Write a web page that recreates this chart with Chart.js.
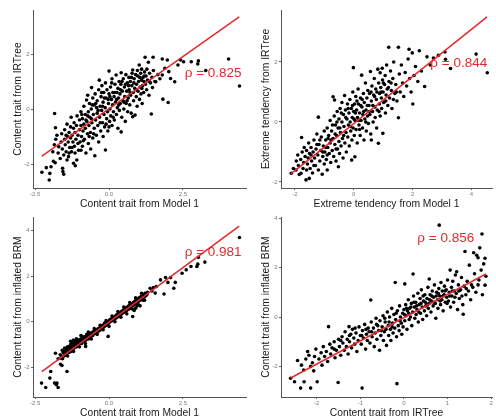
<!DOCTYPE html>
<html>
<head>
<meta charset="utf-8">
<script src="https://cdn.jsdelivr.net/npm/chart.js@4/dist/chart.umd.min.js"></script>
<style>
  html, body { margin: 0; padding: 0; background: #fff; overflow: hidden; }
  #wrap { position: relative; width: 496px; height: 419px; }
  canvas { position: absolute; }
</style>
</head>
<body>
<div id="wrap">
  <canvas id="c1" width="250" height="212" style="left:0;top:0"></canvas>
  <canvas id="c2" width="248" height="212" style="left:248px;top:0"></canvas>
  <canvas id="c3" width="250" height="214" style="left:0;top:205px"></canvas>
  <canvas id="c4" width="248" height="214" style="left:248px;top:205px"></canvas>
</div>
<script>
// axis titles
const xTitles = ["Content trait from Model 1", "Extreme tendency from Model 1", "Content trait from Model 1", "Content trait from IRTree"];
const yTitles = ["Content trait from IRTree", "Extreme tendency from IRTree", "Content trait from inflated BRM", "Content trait from inflated BRM"];
const rhoValues = ["0.825", "0.844", "0.981", "0.856"];

// ticks
const p1XTicks = [-2.5, 0, 2.5], p1XLabels = ["-2.5", "0.0", "2.5"];
const p1YTicks = [-2, 0, 2], p1YLabels = ["-2", "0", "2"];
const p2XTicks = [-2, 0, 2, 4], p2XLabels = ["-2", "0", "2", "4"];
const p2YTicks = [-2, 0, 2], p2YLabels = ["-2", "0", "2"];
const p3XTicks = [-2.5, 0, 2.5], p3XLabels = ["-2.5", "0.0", "2.5"];
const p3YTicks = [-2, 0, 2, 4], p3YLabels = ["-2", "0", "2", "4"];
const p4XTicks = [-2, -1, 0, 1, 2], p4XLabels = ["-2", "-1", "0", "1", "2"];
const p4YTicks = [-2, 0, 2, 4], p4YLabels = ["-2", "0", "2", "4"];

// fitted lines (end points)
const fit1 = [[-2.27, -1.71], [4.4, 3.35]];
const fit2 = [[-2.13, -1.73], [4.53, 3.5]];
const fit3 = [[-2.27, -2.19], [4.4, 4.2]];
const fit4 = [[-2.6, -2.47], [1.88, 1.74]];

// panel 1: Model 1 vs IRTree (content)
const p1Points = [
  [-2.27,-2.3],[-2.12,-2.13],[-2.02,-2.58],[-2.0,-2.34],[-1.96,-2.1],[-1.9,-1.55],[-1.85,-1.3],[-1.84,-0.16],[-1.81,-0.68],[-1.88,-1.9],[-1.82,-1.95],[-1.8,-1.1],
  [-1.76,-0.95],[-1.7,-1.37],[-1.72,-1.6],[-1.65,-1.8],[-1.62,-1.2],[-1.6,-0.9],[-1.58,-1.45],[-1.57,-2.15],[-1.56,-2.27],[-1.53,-2.37],[-1.53,-1.67],[-1.5,-1.1],
  [-1.5,-0.75],[-1.48,-1.3],[-1.45,-1.55],[-1.42,-1.85],[-1.42,-0.55],[-1.4,-1.0],[-1.38,-1.2],[-1.37,-1.73],[-1.35,-0.85],[-1.33,-1.4],[-1.3,-0.65],[-1.3,-1.05],
  [-1.28,-0.3],[-1.27,-1.55],[-1.25,-0.95],[-1.22,-1.2],[-1.2,-1.97],[-1.2,-0.7],[-1.18,-0.5],[-1.17,-1.35],[-1.15,-0.85],[-1.14,-2.06],[-1.12,-1.1],[-1.1,-0.6],
  [-1.09,-1.85],[-1.08,-0.25],[-1.05,-0.95],[-1.03,-1.5],[-1.0,-0.75],[-1.0,-0.4],[-0.98,-1.2],[-0.95,-0.1],[-0.95,-0.6],[-0.93,-1.0],[-0.9,-1.35],[-0.9,-0.35],
  [-0.88,-0.8],[-0.85,-0.55],[-0.85,0.1],[-0.83,-1.1],[-0.8,-0.2],[-0.8,-0.7],[-0.78,-1.6],[-0.76,0.33],[-0.75,-0.45],[-0.73,-0.9],[-0.72,0.5],[-0.7,-0.1],
  [-0.7,-1.25],[-0.68,-0.6],[-0.66,0.2],[-0.65,-0.3],[-0.63,-0.85],[-0.62,-1.45],[-0.6,0.0],[-0.59,0.78],[-0.58,-0.5],[-0.55,0.4],[-0.55,-1.05],[-0.53,-0.2],
  [-0.5,-0.7],[-0.5,0.15],[-0.48,-1.7],[-0.47,0.55],[-0.45,-0.4],[-0.43,-0.95],[-0.42,0.05],[-0.4,0.3],[-0.4,-0.15],[-0.38,-0.6],[-0.35,0.7],[-0.35,-1.2],
  [-0.33,1.05],[-0.32,-0.3],[-0.3,0.1],[-0.28,-0.8],[-0.27,0.45],[-0.25,-0.05],[-0.24,0.85],[-0.22,-0.5],[-0.2,0.25],[-0.2,-1.0],[-0.18,0.6],[-0.17,-0.2],
  [-0.15,-0.65],[-0.13,0.05],[-0.12,-1.49],[-0.12,0.95],[-0.1,0.4],[-0.08,-0.35],[-0.07,0.7],[-0.05,-0.1],[-0.04,-0.8],[-0.02,0.2],[0.0,1.38],[0.0,0.55],
  [0.02,-0.45],[0.03,0.0],[0.05,0.8],[0.06,-0.25],[0.08,0.35],[0.1,-0.6],[0.1,1.1],[0.12,0.15],[0.13,0.6],[0.15,-0.1],[0.17,0.45],[0.18,-0.4],[0.2,0.9],
  [0.22,0.25],[0.24,1.24],[0.25,-0.2],[0.27,0.6],[0.28,0.05],[0.3,-0.7],[0.3,0.75],[0.32,0.4],[0.34,1.0],[0.35,-0.05],[0.37,0.55],[0.38,0.2],[0.4,0.9],
  [0.41,-0.83],[0.41,1.32],[0.43,-0.3],[0.45,0.65],[0.47,0.3],[0.48,1.1],[0.5,0.0],[0.52,0.8],[0.53,0.45],[0.55,-0.45],[0.57,1.25],[0.58,0.2],[0.6,0.65],
  [0.62,0.95],[0.63,-0.1],[0.65,0.4],[0.67,1.15],[0.68,0.7],[0.7,0.15],[0.72,1.0],[0.73,0.5],[0.75,-0.15],[0.77,0.85],[0.78,1.3],[0.8,1.42],[0.8,-0.28],
  [0.82,0.6],[0.83,0.3],[0.85,1.1],[0.87,0.75],[0.88,-0.22],[0.9,1.25],[0.92,0.45],[0.93,0.9],[0.95,0.1],[0.97,1.2],[0.98,0.65],[1.0,1.0],[1.02,1.6],
  [1.03,0.35],[1.05,0.8],[1.07,1.3],[1.08,0.55],[1.1,1.45],[1.1,1.05],[1.12,0.2],[1.13,0.85],[1.15,1.15],[1.17,0.6],[1.18,1.0],[1.2,1.35],[1.22,1.88],
  [1.23,0.9],[1.25,1.2],[1.27,0.7],[1.3,1.05],[1.33,1.7],[1.35,0.5],[1.37,1.3],[1.4,0.95],[1.43,-0.18],[1.45,1.15],[1.47,0.78],[1.49,1.88],[1.5,1.4],
  [1.55,1.0],[1.58,0.99],[1.65,1.25],[1.72,1.1],[1.8,1.24],[1.8,1.82],[1.82,0.36],[1.89,1.48],[1.97,1.78],[2.0,0.24],[2.02,1.36],[2.08,1.11],[2.22,0.99],
  [2.33,1.6],[2.42,1.78],[2.52,1.72],[2.78,1.72],[3.0,1.64],[3.02,1.75],[3.27,1.4],[4.04,1.82],[4.41,0.84],
  [-1.45,-0.95],[-1.35,-1.6],[-1.25,-1.4],[-1.15,-1.6],[-1.05,-1.25],[-0.95,-1.5],[-0.92,-0.2],[-0.87,-1.15],[-0.78,-0.4],[-0.72,-0.25],[-0.67,-1.0],
  [-0.6,-0.35],[-0.52,-0.9],[-0.45,0.2],[-0.37,-0.05],[-0.3,-0.5],[-0.22,0.1],[-0.16,0.4],[-0.1,-0.55],[-0.03,0.35],[0.03,0.45],[0.09,0.95],[0.14,-0.3],
  [0.19,0.6],[0.26,0.35],[0.33,0.15],[0.39,0.7],[0.44,1.0],[0.51,0.25],[0.56,0.9],[0.61,0.3],[0.66,0.85],[0.71,0.6],[0.76,1.15],[0.84,0.95],[0.91,0.7],
  [0.96,1.4],[1.04,1.15],[1.11,0.75],[1.19,1.2],[1.28,1.45],[1.36,1.0],[-0.57,0.15],[-0.25,0.6],[0.0,-0.65]
];

// panel 2: Model 1 vs IRTree (extreme tendency)
const p2Points = [
  [-2.12,-1.71],[-2.05,-1.55],[-1.96,-1.6],[-1.95,-1.3],[-1.9,-1.1],[-1.88,-1.45],[-1.85,-1.75],[-1.8,-1.25],[-1.79,-1.71],[-1.77,-0.52],[-1.75,-1.0],[-1.72,-1.55],
  [-1.7,-1.35],[-1.68,-0.85],[-1.65,-1.15],[-1.62,-1.93],[-1.6,-1.6],[-1.6,-0.95],[-1.57,-1.4],[-1.55,-1.2],[-1.53,-0.7],[-1.51,-1.88],[-1.5,-1.05],[-1.48,-1.55],
  [-1.45,-0.85],[-1.43,-1.3],[-1.4,-1.7],[-1.38,-1.0],[-1.35,-0.6],[-1.33,-1.2],[-1.3,-1.45],[-1.28,-0.9],[-1.25,-0.4],[-1.22,-1.1],[-1.2,0.16],[-1.2,-1.6],
  [-1.18,-0.75],[-1.15,-1.3],[-1.12,-0.95],[-1.1,-0.5],[-1.07,-1.74],[-1.05,-1.15],[-1.03,-0.8],[-1.0,-1.4],[-1.0,-0.3],[-0.98,-1.0],[-0.95,-0.6],[-0.93,-1.25],
  [-0.9,-1.6],[-0.9,-0.2],[-0.88,-0.85],[-0.85,-0.45],[-0.83,-1.05],[-0.8,0.05],[-0.8,-0.7],[-0.78,-1.35],[-0.75,-0.3],[-0.73,-0.95],[-0.7,0.84],[-0.7,-0.55],
  [-0.68,-1.15],[-0.66,0.2],[-0.65,0.73],[-0.64,-0.75],[-0.62,-0.1],[-0.6,-1.3],[-0.58,-0.45],[-0.56,0.35],[-0.55,-0.9],[-0.53,-0.2],[-0.52,-1.49],[-0.5,0.1],
  [-0.5,-0.65],[-0.48,-1.05],[-0.46,0.45],[-0.45,-0.35],[-0.43,-0.8],[-0.4,0.0],[-0.4,0.65],[-0.38,-0.55],[-0.36,-1.2],[-0.35,0.25],[-0.33,-0.15],[-0.31,0.88],
  [-0.3,-0.7],[-0.28,0.4],[-0.26,-0.35],[-0.25,-1.0],[-0.23,0.1],[-0.21,0.6],[-0.2,-0.5],[-0.18,-0.1],[-0.16,0.3],[-0.15,-0.8],[-0.13,0.75],[-0.12,0.0],
  [-0.1,-0.3],[-0.08,0.45],[-0.07,-1.27],[-0.06,-0.6],[-0.05,0.15],[-0.03,1.0],[-0.02,-0.2],[-0.01,1.81],[0.0,0.35],[0.02,-0.45],[0.03,0.6],[0.04,-1.16],
  [0.05,0.05],[0.07,0.85],[0.08,-0.25],[0.1,0.4],[0.12,-0.7],[0.13,0.15],[0.15,1.1],[0.16,0.6],[0.18,-0.1],[0.2,0.3],[0.22,-0.45],[0.23,0.8],[0.25,0.05],
  [0.27,1.56],[0.28,0.5],[0.3,-0.2],[0.31,0.25],[0.33,0.95],[0.35,-0.6],[0.36,0.65],[0.38,0.1],[0.4,1.3],[0.42,0.4],[0.43,-0.3],[0.45,0.8],[0.47,0.2],
  [0.48,1.05],[0.5,-0.05],[0.52,0.55],[0.54,0.95],[0.55,0.25],[0.57,1.68],[0.58,-0.4],[0.6,-0.6],[0.6,0.7],[0.62,1.2],[0.64,0.35],[0.66,0.0],[0.68,0.9],
  [0.7,1.45],[0.72,0.5],[0.73,0.15],[0.75,1.1],[0.77,0.75],[0.78,-0.2],[0.8,0.4],[0.82,1.76],[0.84,-0.71],[0.85,1.3],[0.87,0.6],[0.88,0.95],[0.9,1.64],
  [0.9,0.2],[0.92,1.15],[0.94,0.8],[0.95,0.45],[0.97,1.79],[0.98,1.4],[0.99,-0.38],[1.0,1.0],[1.02,0.65],[1.05,1.25],[1.07,1.55],[1.08,0.3],[1.1,0.9],
  [1.12,1.9],[1.14,1.1],[1.16,0.55],[1.19,2.49],[1.2,1.35],[1.22,0.8],[1.25,1.7],[1.28,1.05],[1.3,0.45],[1.33,1.45],[1.36,2.0],[1.4,0.95],[1.43,1.25],
  [1.47,0.7],[1.52,2.49],[1.52,0.14],[1.55,1.6],[1.58,1.0],[1.62,1.9],[1.66,1.3],[1.7,0.85],[1.75,1.65],[1.8,1.2],[1.85,2.1],[1.88,2.42],[1.9,1.45],
  [1.95,1.0],[1.99,2.3],[2.01,0.6],[2.05,1.55],[2.1,1.85],[2.18,1.35],[2.23,2.37],[2.3,1.7],[2.41,1.18],[2.49,2.17],[2.6,1.9],[2.71,2.13],[2.88,2.22],
  [3.1,2.33],[3.12,2.09],[3.29,1.78],[4.16,2.26],[4.54,1.64],
  [-1.45,-1.1],[-1.35,-1.45],[-1.25,-0.75],[-1.15,-0.6],[-1.05,-1.0],[-0.95,-0.85],[-0.87,-0.55],[-0.77,-0.6],[-0.72,-0.1],[-0.63,-0.4],[-0.57,0.0],
  [-0.47,-0.2],[-0.42,0.3],[-0.34,-0.45],[-0.27,0.15],[-0.19,0.45],[-0.11,-0.15],[-0.04,0.55],[0.01,0.1],[0.06,0.3],[0.11,0.7],[0.17,0.05],[0.24,0.55],
  [0.29,0.75],[0.34,0.35],[0.41,0.0],[0.46,0.55],[0.53,0.35],[0.59,1.0],[0.65,0.55],[0.71,0.85],[0.79,1.0],[0.86,0.35],[0.93,1.0],[1.01,1.3],[1.09,0.7],
  [1.18,1.15],[1.27,1.3],[1.35,0.75],[1.45,1.0],[-0.9,-1.1],[-0.6,-0.9],[0.2,-0.25]
];

// panel 3: Model 1 vs inflated BRM
const p3Points = [
  [-2.28,-2.69],[-2.14,-2.88],[-2.0,-2.47],[-1.97,-2.18],[-1.84,-2.69],[-1.78,-2.76],[-1.72,-2.88],[-1.76,-2.69],[-1.81,-1.38],[-1.72,-1.62],[-1.64,-1.86],
  [-1.59,-1.92],[-1.57,-1.62],[-1.42,-2.18],
  [-1.55,-1.35],[-1.52,-1.5],[-1.5,-1.3],[-1.48,-1.45],[-1.45,-1.2],[-1.43,-1.4],[-1.4,-1.25],[-1.38,-1.1],[-1.35,-1.35],[-1.33,-1.15],[-1.3,-1.0],
  [-1.28,-1.3],[-1.25,-1.05],[-1.23,-1.2],[-1.2,-0.95],[-1.18,-1.15],[-1.15,-1.0],[-1.13,-0.85],[-1.1,-1.1],[-1.08,-0.9],[-1.05,-1.05],[-1.03,-0.8],
  [-1.0,-0.95],[-0.98,-0.85],[-0.95,-0.75],[-0.93,-0.95],[-0.9,-0.8],[-0.88,-0.7],[-0.85,-0.85],[-0.83,-0.75],[-0.8,-0.65],[-0.79,-1.08],[-0.78,-0.8],
  [-0.75,-0.7],[-0.73,-0.6],[-0.7,-0.75],[-0.68,-0.55],[-0.65,-0.68],[-0.63,-0.5],[-0.6,-0.62],[-0.58,-0.48],[-0.55,-0.6],[-0.53,-0.45],[-0.5,-0.52],
  [-0.48,-0.4],[-0.45,-0.5],[-0.43,-0.38],[-0.4,-0.45],[-0.38,-0.32],[-0.35,-0.4],[-0.33,-0.28],[-0.3,-0.36],[-0.28,-0.22],[-0.25,-0.3],[-0.23,-0.18],
  [-0.2,-0.25],[-0.18,-0.12],[-0.15,-0.2],[-0.13,-0.08],[-0.1,-0.15],[-0.08,-0.03],[-0.05,-0.1],[-0.03,-0.64],[-0.02,0.02],[0.0,-0.05],[0.02,0.08],
  [0.05,0.02],[0.07,0.12],[0.1,0.05],[0.12,0.15],[0.15,0.1],[0.17,0.2],[0.2,0.12],[0.22,0.25],[0.25,0.18],[0.27,0.3],[0.3,0.22],[0.32,0.35],[0.35,0.28],
  [0.37,0.4],[0.4,0.3],[0.42,0.45],[0.45,0.38],[0.47,0.5],[0.5,0.42],[0.52,0.55],[0.55,0.45],[0.57,0.6],[0.6,0.5],[0.62,0.65],[0.65,0.55],[0.67,0.7],
  [0.7,0.58],[0.72,0.75],[0.75,0.62],[0.77,0.78],[0.8,0.23],[0.8,0.7],[0.82,0.85],[0.85,0.75],[0.87,0.9],[0.9,0.8],[0.92,0.95],[0.95,0.85],[0.97,1.0],
  [1.0,0.9],[1.02,1.05],[1.05,0.95],[1.07,1.1],[1.1,1.0],[1.12,1.15],[1.15,1.05],[1.17,1.2],[1.2,1.1],[1.22,1.25],[1.25,1.15],[1.28,1.2],[1.3,1.3],
  [-1.3,-0.85],[-1.2,-0.8],[-1.1,-0.75],[-0.95,-0.6],[-0.7,-0.45],[-0.5,-0.3],[-0.3,-0.15],[-0.1,0.05],[0.1,0.25],[0.3,0.45],[0.5,0.65],[0.7,0.85],
  [0.9,1.05],[1.1,1.25],[-1.4,-1.5],[-1.2,-1.3],[-1.0,-1.1],[-0.8,-0.95],[-0.6,-0.75],[-0.4,-0.55],[-0.2,-0.35],[0.0,-0.2],[0.2,0.0],[0.4,0.2],
  [0.6,0.35],[0.8,0.55],[1.0,0.75],[1.2,0.95],[0.9,0.6],[1.05,0.7],
  [-1.5,-1.15],[-1.45,-1.35],[-1.4,-1.1],[-1.35,-1.2],[-1.3,-1.15],[-1.25,-0.9],[-1.2,-1.1],[-1.15,-0.9],[-1.1,-0.95],[-1.05,-0.85],[-1.0,-0.8],
  [-0.95,-0.9],[-0.9,-0.65],[-0.85,-0.7],[-0.8,-0.8],[-0.75,-0.55],[-0.65,-0.55],[-0.55,-0.45],[-0.45,-0.35],[-0.35,-0.3],[-0.25,-0.2],[-0.15,-0.05],
  [-0.05,0.0],[0.05,0.1],[0.15,0.2],[0.25,0.3],[0.35,0.35],[0.45,0.45],[0.55,0.55],[0.65,0.65],[0.75,0.7],[0.85,0.85],[0.95,0.95],[1.05,1.05],
  [1.15,1.15],[1.25,1.25],[-1.6,-1.5],[-1.65,-1.45],[-1.58,-1.25],[-1.62,-1.6],[0.85,0.5],[0.95,0.7],[1.15,0.95],
  [1.39,1.47],[1.45,1.35],[1.5,1.5],[1.56,1.26],[1.6,1.55],[1.74,1.84],[1.86,1.22],[1.91,1.94],[1.99,1.73],[2.08,1.94],[2.19,1.47],[2.24,1.73],
  [2.47,2.13],[2.61,2.28],[2.77,2.43],[2.97,2.43],[3.0,2.53],[3.02,2.83],[3.24,2.62],[4.41,3.7]
];

// panel 4: IRTree vs inflated BRM
const p4Points = [
  [-2.6,-2.48],[-2.51,-2.62],[-2.44,-1.76],[-2.37,-2.88],[-2.35,-1.95],[-2.29,-2.62],[-2.3,-2.15],[-2.25,-1.7],[-2.21,-1.4],[-2.18,-1.55],[-2.14,-2.0],
  [-2.14,-2.88],[-2.1,-1.85],[-2.07,-2.18],[-2.05,-1.6],[-2.02,-1.3],[-1.99,-2.62],[-1.95,-1.7],[-1.9,-1.45],[-1.88,-1.95],[-1.85,-1.2],[-1.82,-1.6],
  [-1.78,-1.4],[-1.75,-1.8],[-1.73,-0.39],[-1.7,-1.1],[-1.68,-1.5],[-1.65,-1.25],[-1.6,-1.0],[-1.58,-1.65],[-1.55,-1.35],[-1.51,-2.65],[-1.5,-0.9],
  [-1.48,-1.2],[-1.45,-1.55],[-1.42,-0.8],[-1.4,-1.05],[-1.37,-1.35],[-1.35,-0.6],[-1.32,-1.2],[-1.3,-0.9],[-1.28,-1.5],[-1.26,-0.39],[-1.25,-1.0],
  [-1.22,-0.7],[-1.2,-1.25],[-1.18,-0.5],[-1.15,-0.85],[-1.13,-1.1],[-1.1,-0.65],[-1.08,-1.4],[-1.05,-0.95],[-1.03,-0.4],[-1.0,-0.75],[-0.98,-1.1],
  [-0.96,-2.88],[-0.95,-0.55],[-0.93,-0.85],[-0.9,-0.3],[-0.88,-1.3],[-0.86,-0.7],[-0.84,-0.95],[-0.82,-0.45],[-0.8,-0.6],[-0.78,-1.05],[-0.76,0.69],
  [-0.75,-0.2],[-0.73,-0.8],[-0.7,-0.45],[-0.68,-1.2],[-0.66,-0.65],[-0.64,-0.05],[-0.62,-0.9],[-0.6,-0.35],[-0.58,-0.55],[-0.56,-1.35],[-0.55,-0.15],
  [-0.53,-0.75],[-0.5,-0.4],[-0.48,0.05],[-0.47,-0.95],[-0.45,-0.6],[-0.43,-0.2],[-0.41,-0.5],[-0.4,-1.15],[-0.38,0.2],[-0.36,-0.35],[-0.35,-0.75],
  [-0.33,0.0],[-0.31,-0.5],[-0.3,-0.95],[-0.28,0.35],[-0.26,-0.25],[-0.25,-0.65],[-0.23,0.1],[-0.21,-0.45],[-0.2,1.4],[-0.19,-0.1],[-0.17,-0.8],
  [-0.16,-2.7],[-0.15,0.25],[-0.13,-0.35],[-0.11,-0.55],[-0.1,0.45],[-0.08,0.0],[-0.06,-0.25],[-0.05,-0.7],[-0.03,0.15],[-0.02,-0.4],[0.0,0.3],
  [0.02,1.34],[0.02,-0.15],[0.04,0.5],[0.05,0.05],[0.07,-0.5],[0.08,0.25],[0.1,0.7],[0.12,-0.1],[0.13,0.35],[0.15,0.0],[0.17,0.55],[0.18,-0.35],
  [0.2,0.2],[0.21,1.74],[0.22,0.85],[0.24,0.4],[0.25,-0.05],[0.27,0.6],[0.28,0.1],[0.3,0.3],[0.32,0.96],[0.33,-0.2],[0.35,0.5],[0.37,0.75],[0.38,0.15],
  [0.4,1.1],[0.42,0.4],[0.43,-0.1],[0.45,0.65],[0.47,0.25],[0.48,0.9],[0.5,0.45],[0.52,0.05],[0.53,0.75],[0.55,1.2],[0.56,0.35],[0.58,1.54],[0.58,0.55],
  [0.6,0.9],[0.62,0.2],[0.63,0.65],[0.65,1.05],[0.67,0.45],[0.68,0.8],[0.7,1.3],[0.72,0.55],[0.73,-0.05],[0.75,1.0],[0.77,0.7],[0.78,0.35],[0.8,1.15],
  [0.81,3.72],[0.82,0.85],[0.84,0.5],[0.85,1.4],[0.87,0.7],[0.88,1.05],[0.9,0.25],[0.92,0.9],[0.93,1.25],[0.95,0.6],[0.97,1.1],[0.98,0.8],[1.0,1.5],
  [1.02,0.65],[1.04,1.0],[1.06,1.9],[1.07,0.4],[1.09,1.2],[1.1,0.85],[1.12,1.45],[1.14,0.6],[1.16,1.05],[1.18,1.7],[1.2,0.95],[1.21,1.83],[1.23,0.3],
  [1.25,1.3],[1.27,0.75],[1.3,1.1],[1.32,1.6],[1.35,0.5],[1.36,0.11],[1.38,1.25],[1.4,2.65],[1.42,0.9],[1.45,1.45],[1.48,1.05],[1.5,2.1],[1.53,0.7],
  [1.55,1.3],[1.6,2.6],[1.62,1.75],[1.65,1.0],[1.67,2.5],[1.7,2.4],[1.72,1.5],[1.74,2.8],[1.77,1.9],[1.79,3.36],[1.8,0.9],[1.83,2.15],[1.86,2.38],
  [1.86,1.29],[1.88,1.65],
  [-1.6,-1.3],[-1.45,-0.95],[-1.25,-0.75],[-1.12,-0.45],[-0.97,-0.75],[-0.87,-0.5],[-0.74,-0.6],[-0.63,-0.3],[-0.52,-0.55],[-0.44,-0.05],[-0.34,-0.2],
  [-0.27,-0.4],[-0.18,0.15],[-0.09,-0.15],[0.01,0.1],[0.06,0.35],[0.11,0.15],[0.16,0.4],[0.23,0.6],[0.29,0.45],[0.34,0.2],[0.39,0.55],[0.44,0.85],
  [0.49,0.6],[0.54,0.5],[0.59,0.7],[0.64,0.85],[0.69,0.6],[0.74,0.85],[0.79,0.95],[0.83,0.65],[0.89,0.85],[0.94,1.05],[0.99,0.55],[1.05,0.85],
  [1.11,1.05],[1.17,0.8],[1.26,1.05],[1.33,0.85],[1.43,1.15],[1.58,1.2],[1.7,1.3]
];

const RED = "#e4282c";
const FONT = "'Liberation Sans', Arial, sans-serif";

const panels = [
  { id: "c1", pts: p1Points, fit: fit1, xr: [-2.57, 4.63], yr: [-2.87, 3.6], xt: p1XTicks, xl: p1XLabels, yt: p1YTicks, yl: p1YLabels, padTop: 10, xH: 24, titlePad: 2, rhoAt: [3.52, 1.31] },
  { id: "c2", pts: p2Points, fit: fit2, xr: [-2.47, 4.7], yr: [-2.2, 3.73], xt: p2XTicks, xl: p2XLabels, yt: p2YTicks, yl: p2YLabels, padTop: 10, xH: 24, titlePad: 2, rhoAt: [3.57, 1.97] },
  { id: "c3", pts: p3Points, fit: fit3, xr: [-2.57, 4.63], yr: [-3.3, 4.6], xt: p3XTicks, xl: p3XLabels, yt: p3YTicks, yl: p3YLabels, padTop: 12, xH: 22, titlePad: 0, rhoAt: [3.52, 3.07] },
  { id: "c4", pts: p4Points, fit: fit4, xr: [-2.82, 2.02], yr: [-3.24, 4.05], xt: p4XTicks, xl: p4XLabels, yt: p4YTicks, yl: p4YLabels, padTop: 12, xH: 22, titlePad: 0, rhoAt: [0.96, 3.2] }
];

panels.forEach((p, i) => {
  const rhoPlugin = {
    id: "rho" + i,
    afterDatasetsDraw(chart) {
      const c = chart.ctx;
      const px = chart.scales.x.getPixelForValue(p.rhoAt[0]);
      const py = chart.scales.y.getPixelForValue(p.rhoAt[1]);
      c.save();
      c.font = "13.5px " + FONT;
      c.fillStyle = RED;
      c.textAlign = "center";
      c.textBaseline = "middle";
      c.fillText("\u03C1 = " + rhoValues[i], px, py);
      c.restore();
    }
  };

  new Chart(document.getElementById(p.id), {
    type: "scatter",
    data: {
      datasets: [
        {
          data: p.fit.map(d => ({ x: d[0], y: d[1] })),
          showLine: true,
          borderColor: RED,
          borderWidth: 1.5,
          pointRadius: 0,
          fill: false
        },
        {
          data: p.pts.map(d => ({ x: d[0], y: d[1] })),
          backgroundColor: "#000",
          borderWidth: 0,
          pointRadius: 1.8
        }
      ]
    },
    options: {
      responsive: false,
      animation: false,
      devicePixelRatio: 1,
      events: [],
      layout: { padding: { top: p.padTop, right: 0, left: 0, bottom: 0 } },
      plugins: { legend: { display: false }, tooltip: { enabled: false } },
      scales: {
        x: {
          type: "linear",
          min: p.xr[0],
          max: p.xr[1],
          afterBuildTicks: s => { s.ticks = p.xt.map(v => ({ value: v })); },
          afterFit: s => { s.height = p.xH; },
          ticks: {
            autoSkip: false,
            maxRotation: 0,
            padding: 1,
            color: "#7a7a7a",
            font: { family: FONT, size: 6 },
            callback: (v, idx) => p.xl[idx]
          },
          grid: { drawOnChartArea: false, color: "#666", tickLength: 2 },
          border: { color: "#555", width: 1 },
          title: {
            display: true,
            text: xTitles[i],
            color: "#1a1a1a",
            font: { family: FONT, size: 10.3 },
            padding: { top: 0, bottom: p.titlePad }
          }
        },
        y: {
          type: "linear",
          min: p.yr[0],
          max: p.yr[1],
          afterBuildTicks: s => { s.ticks = p.yt.map(v => ({ value: v })); },
          afterFit: s => { s.width = 33; },
          ticks: {
            autoSkip: false,
            padding: 1.5,
            color: "#7a7a7a",
            font: { family: FONT, size: 6 },
            callback: (v, idx) => p.yl[idx]
          },
          grid: { drawOnChartArea: false, color: "#666", tickLength: 2 },
          border: { color: "#555", width: 1 },
          title: {
            display: true,
            text: yTitles[i],
            color: "#1a1a1a",
            font: { family: FONT, size: 10.3 },
            padding: { top: 12, bottom: 0 }
          }
        }
      }
    },
    plugins: [rhoPlugin]
  });
});
</script>
</body>
</html>
